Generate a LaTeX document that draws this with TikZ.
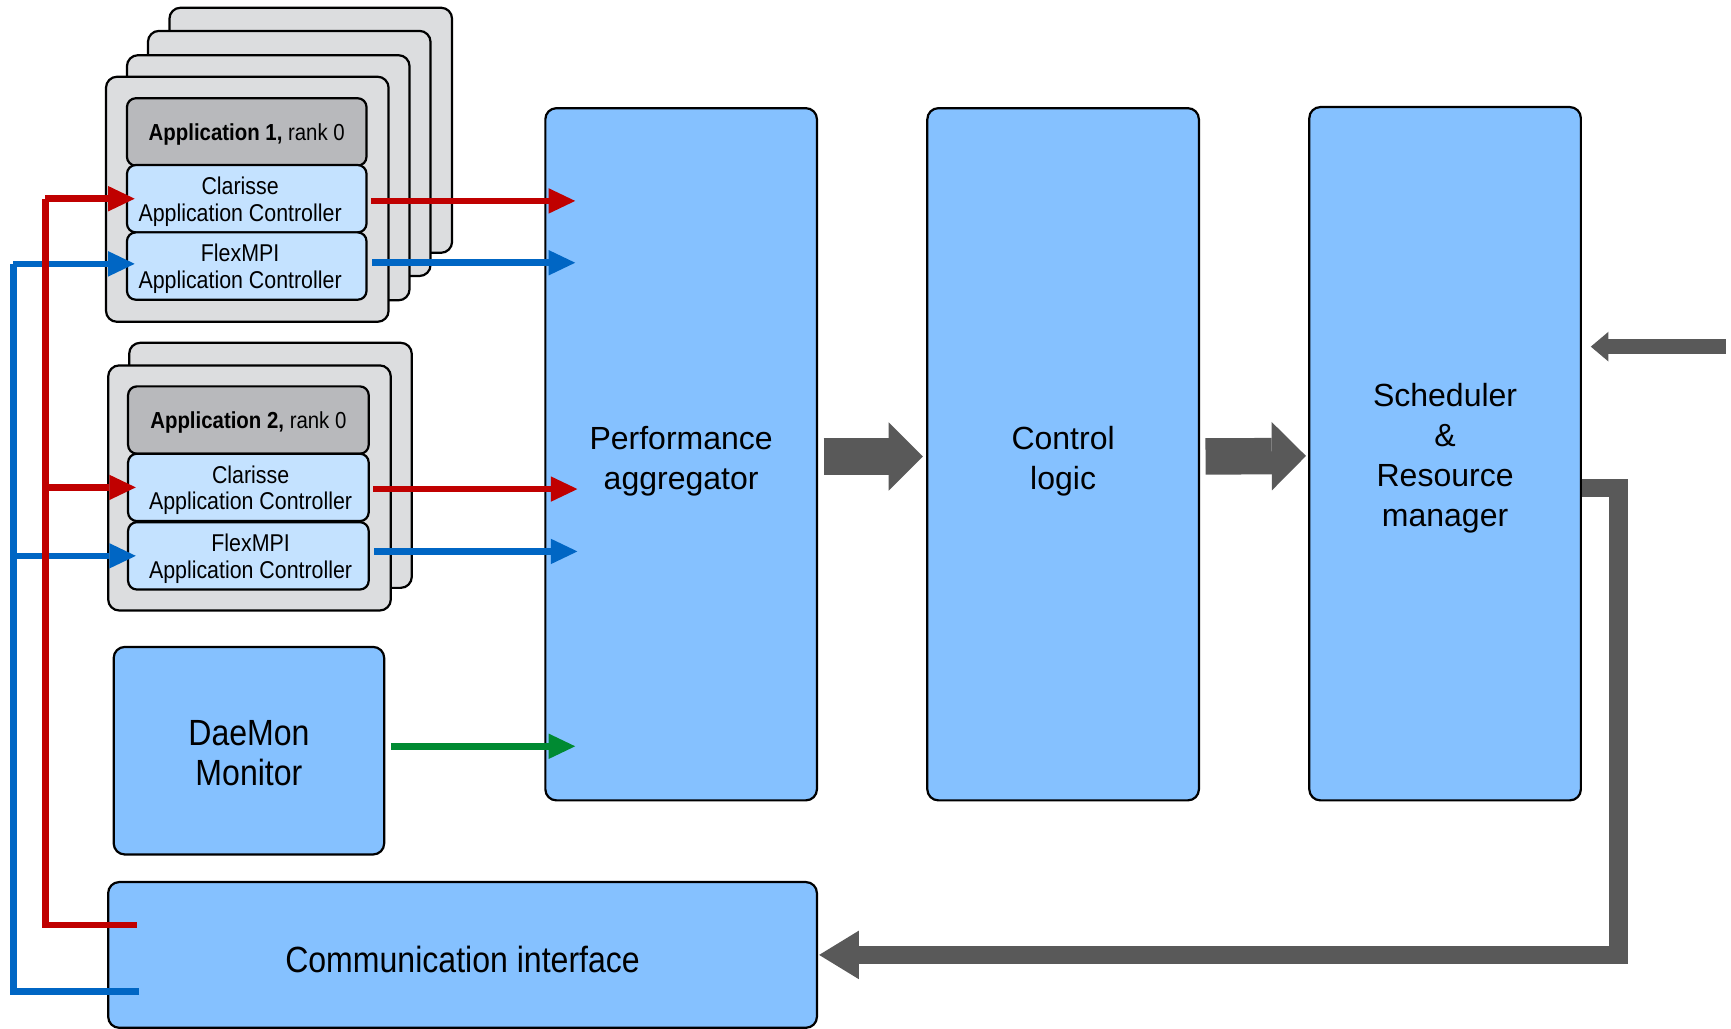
\documentclass[tikz,border=0pt]{standalone}
\usepackage{fontspec}
\setmainfont{Liberation Sans}
\newfontfamily\condfont[FakeStretch=0.88]{Liberation Sans}
\usetikzlibrary{arrows.meta,calc}
\definecolor{mainblue}{RGB}{133,193,255}
\definecolor{subblue}{RGB}{196,226,255}
\definecolor{stackgray}{RGB}{220,221,223}
\definecolor{titlegray}{RGB}{184,185,188}
\definecolor{wirered}{RGB}{192,0,0}
\definecolor{wireblue}{RGB}{0,102,196}
\definecolor{wiregreen}{RGB}{0,138,50}
\definecolor{arrowgray}{RGB}{89,89,89}
\begin{document}
\begin{tikzpicture}[x=1pt,y=-1pt,
  box/.style={draw=black, line width=2pt, rounded corners=8pt, inner sep=0pt},
  mainbox/.style={box, fill=mainblue, rounded corners=10pt, minimum width=246pt},
  stackbox/.style={box, fill=stackgray, rounded corners=10pt, minimum width=256pt, minimum height=222pt},
  titlebox/.style={box, fill=titlegray, minimum width=217pt, minimum height=61pt},
  subbox/.style={box, fill=subblue, minimum width=217pt, minimum height=61pt},
  mainlabel/.style={inner sep=0pt, align=center, font=\fontsize{29}{36}\selectfont},
  condlabel/.style={inner sep=0pt, align=center, font=\condfont\fontsize{33}{36}\selectfont},
  titlelabel/.style={inner sep=0pt, align=center, font=\condfont\fontsize{21}{24}\selectfont},
  sublabel/.style={inner sep=0pt, align=center, font=\condfont\fontsize{22}{24}\selectfont},
  wire/.style={line width=6pt, -{Triangle[length=24pt,width=23pt,line width=0pt]}},
  plainwire/.style={line width=6pt},
  blockarrow/.style={draw=arrowgray, line width=33pt, -{Triangle[length=31pt,width=62pt,line width=0pt]}},
]
\useasboundingbox (0,0) rectangle (1568,932);

% Application 1 stack
\node[stackbox] (a1b4) at (281.5,118) {};
\node[stackbox] (a1b3) at (262,139) {};
\node[stackbox] (a1b2) at (243,161) {};
\node[stackbox] (a1b1) at (224,180.5) {};
\node[titlebox] (a1t) at (223.5,119.5) {};
\node[subbox] (a1c) at (223.5,180) {};
\node[subbox] (a1f) at (223.5,241) {};
\node[titlelabel] (a1tL) at ($(a1t.center)+(0,2.5)$) {\textbf{Application 1,} rank 0};
\node[sublabel] (a1cL) at ($(a1c.center)+(-6,2.5)$) {Clarisse\\Application Controller};
\node[sublabel] (a1fL) at ($(a1f.center)+(-6,2.5)$) {FlexMPI\\Application Controller};

% Application 2 stack
\node[stackbox] (a2b2) at (245,421.5) {};
\node[stackbox] (a2b1) at (226,442) {};
\node[titlebox, minimum width=218pt] (a2t) at (225,380.5) {};
\node[subbox, minimum width=218pt] (a2c) at (225,441.5) {};
\node[subbox, minimum width=218pt] (a2f) at (225,503.5) {};
\node[titlelabel] (a2tL) at ($(a2t.center)+(0,2.5)$) {\textbf{Application 2,} rank 0};
\node[sublabel] (a2cL) at ($(a2c.center)+(2,2.5)$) {Clarisse\\Application Controller};
\node[sublabel] (a2fL) at ($(a2f.center)+(2,2.5)$) {FlexMPI\\Application Controller};

% Main blocks
\node[mainbox, minimum height=627pt] (perf) at (617,411.5) {};
\node[mainbox, minimum height=627pt] (ctrl) at (963,411.5) {};
\node[mainbox, minimum height=628pt] (sched) at (1309,411) {};
\node[mainbox, minimum width=245pt, minimum height=188pt] (dm) at (225.5,680) {};
\node[mainbox, minimum width=642pt, minimum height=132pt] (comm) at (419,865) {};
\node[mainlabel] (perfL) at ($(perf.center)+(0,6)$) {Performance\\aggregator};
\node[mainlabel] (ctrlL) at ($(ctrl.center)+(0,6)$) {Control\\logic};
\node[mainlabel] (schedL) at ($(sched.center)+(0,4)$) {Scheduler\\\&\\Resource\\manager};
\node[condlabel] (dmL) at ($(dm.center)+(0,2.5)$) {DaeMon\\Monitor};
\node[condlabel] (commL) at ($(comm.center)+(0,4)$) {Communication interface};

% Bus coordinates
\coordinate (bTop) at (12,239);
\coordinate (bEnd) at (126,898);
\coordinate (rTop) at (41,180);
\coordinate (rEnd) at (124,838);

% Blue bus
\draw[wireblue, plainwire] (bEnd) -- (bEnd -| bTop) -- (bTop);
\draw[wireblue, wire, shorten >=-8pt] (bTop) -- (bTop -| a1f.west);
\draw[wireblue, wire, shorten >=-8pt] (a2f.west -| bTop) -- (a2f.west);
% Red bus
\draw[wirered, plainwire] (rEnd) -- (rEnd -| rTop) -- (rTop);
\draw[wirered, wire, shorten >=-8pt] (rTop) -- (a1c.west);
\draw[wirered, wire, shorten >=-8pt] (a2c.west -| rTop) -- (a2c.west);

% Outputs to performance aggregator
\draw[wirered, wire, shorten <=3pt, shorten >=-28pt] ($(a1c.east)+(0,2)$) -- ($(a1c.east -| perf.west)+(0,2)$);
\draw[wireblue, wire, shorten <=4pt, shorten >=-28pt] ($(a1f.east)+(0,-3)$) -- ($(a1f.east -| perf.west)+(0,-3)$);
\draw[wirered, wire, shorten <=3pt, shorten >=-30pt] ($(a2c.east)+(0,1.5)$) -- ($(a2c.east -| perf.west)+(0,1.5)$);
\draw[wireblue, wire, shorten <=4pt, shorten >=-30pt] ($(a2f.east)+(0,-4)$) -- ($(a2f.east -| perf.west)+(0,-4)$);
\draw[wiregreen, wire, shorten <=5pt, shorten >=-28pt] ($(dm.east)+(0,-4)$) -- ($(dm.east -| perf.west)+(0,-4)$);

% Block arrows
\draw[blockarrow, shorten <=5pt, shorten >=3pt] ($(perf.east)+(0,2)$) -- ($(ctrl.west)+(0,2)$);
\draw[blockarrow, shorten <=5pt, shorten >=2pt] ($(ctrl.east)+(0,2)$) -- ($(sched.west)+(0,2)$);

% External input to scheduler
\coordinate (ext) at (1563,314);
\draw[arrowgray, line width=14pt, -{Triangle[length=16pt,width=27pt,line width=0pt]}, shorten >=8pt] (ext) -- (ext -| sched.east);

% Feedback to communication interface
\coordinate (fbCorner) at (1466,442);
\draw[arrowgray, line width=17pt, miter limit=10, -{Triangle[length=36pt,width=44pt,line width=0pt]}, shorten >=1pt]
  (fbCorner -| sched.east) -- (fbCorner) -- (fbCorner |- comm.east) -- (comm.east);
\end{tikzpicture}
\end{document}
